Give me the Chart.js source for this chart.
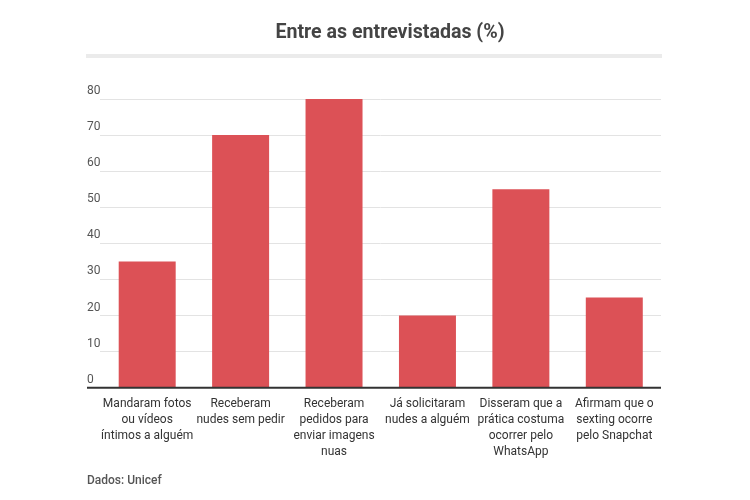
<!DOCTYPE html>
<html>
<head>
<meta charset="utf-8">
<script src="https://cdn.jsdelivr.net/npm/chart.js@4"></script>
<style>
  html, body { margin: 0; padding: 0; background: #fff; }
  #wrap { width: 750px; height: 500px; }
</style>
</head>
<body>
<div id="wrap"><canvas id="chart" width="750" height="500"></canvas></div>
<script>
const categories = [
  ['Mandaram fotos', 'ou vídeos', 'íntimos a alguém'],
  ['Receberam', 'nudes sem pedir'],
  ['Receberam', 'pedidos para', 'enviar imagens', 'nuas'],
  ['Já solicitaram', 'nudes a alguém'],
  ['Disseram que a', 'prática costuma', 'ocorrer pelo', 'WhatsApp'],
  ['Afirmam que o', 'sexting ocorre', 'pelo Snapchat']
];
const values = [35, 70, 80, 20, 55, 25];
const yTicks = [0, 10, 20, 30, 40, 50, 60, 70, 80];
const titleText = 'Entre as entrevistadas (%)';
const sourceText = 'Dados: Unicef';

// title, grey rule, source note and the long baseline
const decor = {
  id: 'decor',
  afterDraw(chart) {
    const c = chart.ctx;
    const y = chart.scales.y;
    const area = chart.chartArea;
    c.save();
    c.fillStyle = '#444';
    c.font = 'bold 19.6px Roboto';
    c.textAlign = 'center';
    c.textBaseline = 'middle';
    c.fillText(titleText, 390, 33);

    c.fillStyle = '#ebebeb';
    c.fillRect(86, 54, 576, 4);

    c.fillStyle = '#555';
    c.font = '500 12px Roboto';
    c.textAlign = 'left';
    c.fillText(sourceText, 87, 481);

    const y0 = y.getPixelForValue(0);
    c.strokeStyle = '#333';
    c.lineWidth = 2;
    c.beginPath();
    c.moveTo(y.left, y0);
    c.lineTo(area.right, y0);
    c.stroke();
    c.restore();
  }
};

new Chart(document.getElementById('chart'), {
  type: 'bar',
  data: {
    labels: categories,
    datasets: [{
      data: values,
      backgroundColor: '#dc5156',
      categoryPercentage: 1,
      barPercentage: 0.61
    }]
  },
  options: {
    responsive: false,
    animation: false,
    layout: { padding: { left: 87, right: 89, top: 99, bottom: 40 } },
    plugins: {
      legend: { display: false },
      tooltip: { enabled: false }
    },
    scales: {
      x: {
        grid: { display: false },
        border: { display: false },
        ticks: {
          color: '#333',
          font: { family: 'Roboto', size: 12, lineHeight: 1.34 },
          padding: 0,
          maxRotation: 0,
          autoSkip: false
        }
      },
      y: {
        min: 0,
        max: 80,
        afterBuildTicks: s => { s.ticks = yTicks.map(v => ({ value: v })); },
        border: { display: false },
        grid: {
          drawTicks: false,
          color: ctx => ctx.tick && ctx.tick.value === 0 ? 'rgba(0,0,0,0)' : '#e3e3e3',
          lineWidth: 1
        },
        ticks: {
          color: '#555',
          font: { family: 'Roboto', size: 12 },
          crossAlign: 'far',
          padding: 0,
          labelOffset: -8
        }
      }
    }
  },
  plugins: [decor]
});
</script>
</body>
</html>
